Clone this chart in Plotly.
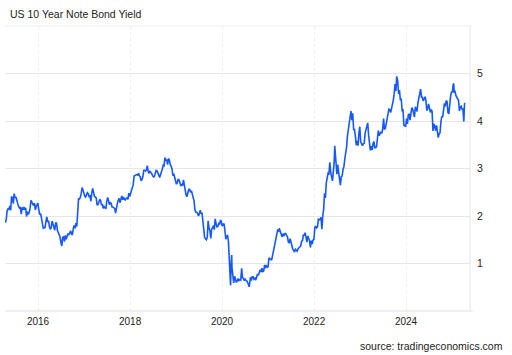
import plotly.graph_objects as go

title_text = "US 10 Year Note Bond Yield"
source_text = "source: tradingeconomics.com"

dates = [
    # 2015
    "2015-04-17","2015-04-24","2015-05-01","2015-05-08","2015-05-15","2015-05-22","2015-05-29",
    "2015-06-05","2015-06-12","2015-06-19","2015-06-26","2015-07-03","2015-07-10","2015-07-17",
    "2015-07-24","2015-07-31","2015-08-07","2015-08-14","2015-08-21","2015-08-28","2015-09-04",
    "2015-09-11","2015-09-18","2015-09-25","2015-10-02","2015-10-09","2015-10-16","2015-10-23",
    "2015-10-30","2015-11-06","2015-11-13","2015-11-20","2015-11-27","2015-12-04","2015-12-11",
    "2015-12-18","2015-12-25","2015-12-31",
    # 2016
    "2016-01-08","2016-01-15","2016-01-22","2016-01-29","2016-02-05","2016-02-12","2016-02-19",
    "2016-02-26","2016-03-04","2016-03-11","2016-03-18","2016-03-25","2016-04-01","2016-04-08",
    "2016-04-15","2016-04-22","2016-04-29","2016-05-06","2016-05-13","2016-05-20","2016-05-27",
    "2016-06-03","2016-06-10","2016-06-17","2016-06-24","2016-07-01","2016-07-08","2016-07-15",
    "2016-07-22","2016-07-29","2016-08-05","2016-08-12","2016-08-19","2016-08-26","2016-09-02",
    "2016-09-09","2016-09-16","2016-09-23","2016-09-30","2016-10-07","2016-10-14","2016-10-21",
    "2016-10-28","2016-11-04","2016-11-11","2016-11-18","2016-11-25","2016-12-02","2016-12-09",
    "2016-12-16","2016-12-23","2016-12-30",
    # 2017
    "2017-01-06","2017-01-13","2017-01-20","2017-01-27","2017-02-03","2017-02-10","2017-02-17",
    "2017-02-24","2017-03-03","2017-03-10","2017-03-17","2017-03-24","2017-03-31","2017-04-07",
    "2017-04-14","2017-04-21","2017-04-28","2017-05-05","2017-05-12","2017-05-19","2017-05-26",
    "2017-06-02","2017-06-09","2017-06-16","2017-06-23","2017-06-30","2017-07-07","2017-07-14",
    "2017-07-21","2017-07-28","2017-08-04","2017-08-11","2017-08-18","2017-08-25","2017-09-01",
    "2017-09-08","2017-09-15","2017-09-22","2017-09-29","2017-10-06","2017-10-13","2017-10-20",
    "2017-10-27","2017-11-03","2017-11-10","2017-11-17","2017-11-24","2017-12-01","2017-12-08",
    "2017-12-15","2017-12-22","2017-12-29",
    # 2018
    "2018-01-05","2018-01-12","2018-01-19","2018-01-26","2018-02-02","2018-02-09","2018-02-16",
    "2018-02-23","2018-03-02","2018-03-09","2018-03-16","2018-03-23","2018-03-30","2018-04-06",
    "2018-04-13","2018-04-20","2018-04-27","2018-05-04","2018-05-11","2018-05-18","2018-05-25",
    "2018-06-01","2018-06-08","2018-06-15","2018-06-22","2018-06-29","2018-07-06","2018-07-13",
    "2018-07-20","2018-07-27","2018-08-03","2018-08-10","2018-08-17","2018-08-24","2018-08-31",
    "2018-09-07","2018-09-14","2018-09-21","2018-09-28","2018-10-05","2018-10-12","2018-10-19",
    "2018-10-26","2018-11-02","2018-11-09","2018-11-16","2018-11-23","2018-11-30","2018-12-07",
    "2018-12-14","2018-12-21","2018-12-28",
    # 2019
    "2019-01-04","2019-01-11","2019-01-18","2019-01-25","2019-02-01","2019-02-08","2019-02-15",
    "2019-02-22","2019-03-01","2019-03-08","2019-03-15","2019-03-22","2019-03-29","2019-04-05",
    "2019-04-12","2019-04-19","2019-04-26","2019-05-03","2019-05-10","2019-05-17","2019-05-24",
    "2019-05-31","2019-06-07","2019-06-14","2019-06-21","2019-06-28","2019-07-05","2019-07-12",
    "2019-07-19","2019-07-26","2019-08-02","2019-08-09","2019-08-16","2019-08-23","2019-08-30",
    "2019-09-06","2019-09-13","2019-09-20","2019-09-27","2019-10-04","2019-10-11","2019-10-18",
    "2019-10-25","2019-11-01","2019-11-08","2019-11-15","2019-11-22","2019-11-29","2019-12-06",
    "2019-12-13","2019-12-20","2019-12-27",
    # 2020
    "2020-01-03","2020-01-10","2020-01-17","2020-01-24","2020-01-31","2020-02-07","2020-02-14",
    "2020-02-21","2020-02-28","2020-03-06","2020-03-09","2020-03-13","2020-03-18","2020-03-20",
    "2020-03-27","2020-04-03","2020-04-10","2020-04-17","2020-04-24","2020-05-01","2020-05-08",
    "2020-05-15","2020-05-22","2020-05-29","2020-06-05","2020-06-12","2020-06-19","2020-06-26",
    "2020-07-03","2020-07-10","2020-07-17","2020-07-24","2020-07-31","2020-08-04","2020-08-14",
    "2020-08-21","2020-08-28","2020-09-04","2020-09-11","2020-09-18","2020-09-25","2020-10-02",
    "2020-10-09","2020-10-16","2020-10-23","2020-10-30","2020-11-06","2020-11-13","2020-11-20",
    "2020-11-27","2020-12-04","2020-12-11","2020-12-18","2020-12-24","2020-12-31",
    # 2021
    "2021-01-08","2021-01-15","2021-01-22","2021-01-29","2021-02-05","2021-02-12","2021-02-19",
    "2021-02-26","2021-03-05","2021-03-12","2021-03-19","2021-03-26","2021-03-31","2021-04-09",
    "2021-04-16","2021-04-23","2021-04-30","2021-05-07","2021-05-14","2021-05-21","2021-05-28",
    "2021-06-04","2021-06-11","2021-06-18","2021-06-25","2021-07-02","2021-07-09","2021-07-16",
    "2021-07-23","2021-07-30","2021-08-06","2021-08-13","2021-08-20","2021-08-27","2021-09-03",
    "2021-09-10","2021-09-17","2021-09-24","2021-10-01","2021-10-08","2021-10-15","2021-10-22",
    "2021-10-29","2021-11-05","2021-11-12","2021-11-19","2021-11-26","2021-12-03","2021-12-10",
    "2021-12-17","2021-12-23","2021-12-31",
    # 2022
    "2022-01-07","2022-01-14","2022-01-21","2022-01-28","2022-02-04","2022-02-11","2022-02-18",
    "2022-02-25","2022-03-04","2022-03-11","2022-03-18","2022-03-25","2022-04-01","2022-04-08",
    "2022-04-15","2022-04-22","2022-04-29","2022-05-06","2022-05-13","2022-05-20","2022-05-27",
    "2022-06-03","2022-06-10","2022-06-14","2022-06-17","2022-06-24","2022-07-01","2022-07-08",
    "2022-07-15","2022-07-22","2022-07-29","2022-08-05","2022-08-12","2022-08-19","2022-08-26",
    "2022-09-02","2022-09-09","2022-09-16","2022-09-23","2022-09-30","2022-10-07","2022-10-14",
    "2022-10-21","2022-10-28","2022-11-04","2022-11-11","2022-11-18","2022-11-25","2022-12-02",
    "2022-12-09","2022-12-16","2022-12-23","2022-12-30",
    # 2023
    "2023-01-06","2023-01-13","2023-01-20","2023-01-27","2023-02-03","2023-02-10","2023-02-17",
    "2023-02-24","2023-03-03","2023-03-10","2023-03-17","2023-03-24","2023-03-31","2023-04-07",
    "2023-04-14","2023-04-21","2023-04-28","2023-05-05","2023-05-12","2023-05-19","2023-05-26",
    "2023-06-02","2023-06-09","2023-06-16","2023-06-23","2023-06-30","2023-07-07","2023-07-14",
    "2023-07-21","2023-07-28","2023-08-04","2023-08-11","2023-08-18","2023-08-25","2023-09-01",
    "2023-09-08","2023-09-15","2023-09-22","2023-09-29","2023-10-06","2023-10-13","2023-10-19",
    "2023-10-27","2023-11-03","2023-11-10","2023-11-17","2023-11-24","2023-12-01","2023-12-08",
    "2023-12-15","2023-12-22","2023-12-29",
    # 2024
    "2024-01-05","2024-01-12","2024-01-19","2024-01-26","2024-02-02","2024-02-09","2024-02-16",
    "2024-02-23","2024-03-01","2024-03-08","2024-03-15","2024-03-22","2024-03-28","2024-04-05",
    "2024-04-12","2024-04-19","2024-04-26","2024-05-03","2024-05-10","2024-05-17","2024-05-24",
    "2024-05-31","2024-06-07","2024-06-14","2024-06-21","2024-06-28","2024-07-05","2024-07-12",
    "2024-07-19","2024-07-26","2024-08-02","2024-08-09","2024-08-16","2024-08-23","2024-08-30",
    "2024-09-06","2024-09-13","2024-09-20","2024-09-27","2024-10-04","2024-10-11","2024-10-18",
    "2024-10-25","2024-11-01","2024-11-08","2024-11-15","2024-11-22","2024-11-29","2024-12-06",
    "2024-12-13","2024-12-20","2024-12-27",
    # 2025
    "2025-01-03","2025-01-10","2025-01-14","2025-01-17","2025-01-24","2025-01-31","2025-02-07",
    "2025-02-14","2025-02-21","2025-02-28","2025-03-07","2025-03-14","2025-03-21","2025-03-28",
    "2025-04-04","2025-04-09","2025-04-11",
]

yields = [
    # 2015
    1.86, 1.93, 2.11, 2.15, 2.14, 2.21, 2.12,
    2.40, 2.39, 2.26, 2.47, 2.38, 2.40, 2.35,
    2.26, 2.20, 2.17, 2.19, 2.04, 2.18, 2.13,
    2.19, 2.13, 2.17, 1.99, 2.09, 2.03, 2.08,
    2.16, 2.33, 2.28, 2.26, 2.22, 2.27, 2.13,
    2.20, 2.25, 2.27,
    # 2016
    2.12, 2.03, 2.05, 1.94, 1.84, 1.74, 1.75,
    1.76, 1.88, 1.98, 1.87, 1.90, 1.77, 1.72,
    1.76, 1.89, 1.83, 1.78, 1.70, 1.85, 1.85,
    1.70, 1.64, 1.61, 1.56, 1.44, 1.37, 1.55,
    1.57, 1.46, 1.59, 1.51, 1.58, 1.63, 1.60,
    1.67, 1.69, 1.62, 1.60, 1.73, 1.80, 1.74,
    1.85, 1.78, 2.15, 2.36, 2.36, 2.39, 2.47,
    2.60, 2.55, 2.45,
    # 2017
    2.42, 2.40, 2.47, 2.49, 2.47, 2.41, 2.42,
    2.31, 2.49, 2.58, 2.50, 2.41, 2.40, 2.38,
    2.24, 2.24, 2.29, 2.35, 2.33, 2.23, 2.25,
    2.16, 2.20, 2.16, 2.15, 2.31, 2.39, 2.33,
    2.24, 2.29, 2.26, 2.19, 2.19, 2.17, 2.16,
    2.06, 2.20, 2.26, 2.33, 2.37, 2.28, 2.39,
    2.42, 2.34, 2.40, 2.35, 2.34, 2.37, 2.38,
    2.35, 2.48, 2.41,
    # 2018
    2.48, 2.55, 2.64, 2.66, 2.84, 2.85, 2.87,
    2.87, 2.86, 2.90, 2.85, 2.82, 2.74, 2.77,
    2.83, 2.96, 2.96, 2.95, 2.97, 3.06, 2.93,
    2.90, 2.94, 2.92, 2.89, 2.85, 2.82, 2.83,
    2.89, 2.96, 2.95, 2.87, 2.86, 2.81, 2.86,
    2.94, 2.99, 3.07, 3.06, 3.23, 3.16, 3.19,
    3.08, 3.21, 3.18, 3.08, 3.05, 2.99, 2.85,
    2.89, 2.79, 2.72,
    # 2019
    2.67, 2.70, 2.78, 2.76, 2.69, 2.63, 2.66,
    2.65, 2.76, 2.63, 2.59, 2.44, 2.41, 2.50,
    2.56, 2.56, 2.50, 2.53, 2.47, 2.39, 2.32,
    2.13, 2.08, 2.08, 2.06, 2.00, 2.04, 2.12,
    2.05, 2.07, 1.85, 1.74, 1.55, 1.52, 1.50,
    1.55, 1.90, 1.74, 1.69, 1.53, 1.73, 1.75,
    1.80, 1.71, 1.94, 1.83, 1.77, 1.78, 1.84,
    1.82, 1.92, 1.88,
    # 2020
    1.79, 1.82, 1.84, 1.70, 1.51, 1.58, 1.59,
    1.46, 1.13, 0.71, 0.54, 0.96, 1.18, 0.92,
    0.68, 0.59, 0.73, 0.65, 0.60, 0.64, 0.68,
    0.64, 0.66, 0.65, 0.90, 0.70, 0.69, 0.64,
    0.67, 0.64, 0.63, 0.59, 0.53, 0.51, 0.71,
    0.64, 0.72, 0.72, 0.67, 0.69, 0.65, 0.70,
    0.78, 0.75, 0.84, 0.87, 0.82, 0.90, 0.83,
    0.84, 0.97, 0.90, 0.95, 0.94, 0.92,
    # 2021
    1.12, 1.09, 1.09, 1.07, 1.17, 1.20, 1.34,
    1.44, 1.57, 1.64, 1.72, 1.67, 1.74, 1.66,
    1.58, 1.56, 1.63, 1.58, 1.63, 1.63, 1.59,
    1.56, 1.45, 1.44, 1.52, 1.43, 1.36, 1.30,
    1.28, 1.24, 1.30, 1.28, 1.26, 1.31, 1.33,
    1.34, 1.37, 1.47, 1.48, 1.61, 1.59, 1.65,
    1.55, 1.45, 1.58, 1.54, 1.48, 1.34, 1.48,
    1.41, 1.49, 1.51,
    # 2022
    1.76, 1.78, 1.75, 1.77, 1.93, 1.92, 1.93,
    1.97, 1.72, 2.00, 2.14, 2.48, 2.38, 2.70,
    2.83, 2.90, 2.89, 3.13, 2.92, 2.78, 2.74,
    2.94, 3.15, 3.48, 3.23, 3.13, 2.88, 3.08,
    2.92, 2.77, 2.65, 2.83, 2.84, 2.98, 3.04,
    3.20, 3.31, 3.45, 3.69, 3.83, 3.88, 4.01,
    4.21, 4.02, 4.16, 3.82, 3.82, 3.68, 3.49,
    3.58, 3.48, 3.75, 3.88,
    # 2023
    3.56, 3.51, 3.48, 3.52, 3.53, 3.74, 3.82,
    3.95, 3.96, 3.70, 3.43, 3.38, 3.47, 3.39,
    3.52, 3.57, 3.44, 3.44, 3.46, 3.67, 3.80,
    3.69, 3.74, 3.77, 3.74, 3.84, 4.05, 3.83,
    3.84, 3.96, 4.05, 4.16, 4.25, 4.24, 4.18,
    4.26, 4.33, 4.44, 4.57, 4.78, 4.63, 4.94,
    4.84, 4.57, 4.65, 4.44, 4.47, 4.22, 4.23,
    3.91, 3.90, 3.88,
    # 2024
    4.05, 3.94, 4.13, 4.14, 4.02, 4.18, 4.28,
    4.25, 4.18, 4.08, 4.30, 4.22, 4.20, 4.39,
    4.50, 4.62, 4.67, 4.50, 4.50, 4.42, 4.46,
    4.51, 4.43, 4.22, 4.26, 4.36, 4.28, 4.18,
    4.24, 4.20, 3.79, 3.94, 3.89, 3.80, 3.91,
    3.72, 3.65, 3.73, 3.75, 3.98, 4.10, 4.08,
    4.24, 4.37, 4.31, 4.43, 4.41, 4.18, 4.15,
    4.40, 4.52, 4.62,
    # 2025
    4.60, 4.77, 4.79, 4.61, 4.62, 4.54, 4.49,
    4.48, 4.43, 4.21, 4.30, 4.31, 4.25, 4.25,
    3.99, 4.34, 4.38,
]

assert len(dates) == len(yields)

x_range = ["2015-04-14", "2025-05-23"]
y_range = [0, 6]
y_ticks = [1, 2, 3, 4, 5]
x_ticks = ["2016-01-01", "2018-01-01", "2020-01-01", "2022-01-01", "2024-01-01"]
x_tick_labels = ["2016", "2018", "2020", "2022", "2024"]

FONT = "Liberation Sans, Arial, Helvetica, sans-serif"

fig = go.Figure()
fig.add_trace(go.Scatter(
    x=dates, y=yields, mode="lines",
    line=dict(color="#1558ff", width=1.6),
    hoverinfo="skip", showlegend=False,
))

fig.update_layout(
    width=512, height=355,
    margin=dict(l=5, r=42, t=26, b=44),
    paper_bgcolor="white", plot_bgcolor="white",
    font=dict(family=FONT, size=10, color="#222"),
    hovermode=False,
    title=dict(text=title_text, x=10/512, xanchor="left", y=1-14/355, yanchor="middle",
               xref="container", yref="container",
               font=dict(family=FONT, size=10.5, color="#222")),
    xaxis=dict(range=x_range, tickvals=x_ticks, ticktext=x_tick_labels,
               showgrid=True, gridcolor="#ececf2", griddash="dot", gridwidth=1,
               zeroline=False, showline=False, ticks="", ticklabelstandoff=3,
               tickfont=dict(size=10, color="#222")),
    yaxis=dict(range=y_range, tickvals=y_ticks, side="right",
               showgrid=True, gridcolor="#e6e6e6", gridwidth=1,
               zeroline=False, showline=False, ticks="", ticklabelstandoff=6,
               tickfont=dict(size=10.5, color="#222")),
    shapes=[
        dict(type="line", xref="paper", yref="paper", x0=0, x1=1.006, y0=1, y1=1,
             line=dict(color="#eeeeee", width=1)),
        dict(type="line", xref="paper", yref="paper", x0=0, x1=1.006, y0=0, y1=0,
             line=dict(color="#dde0e8", width=1)),
        dict(type="line", xref="paper", yref="paper", x0=1, x1=1, y0=0, y1=1,
             line=dict(color="#e6e6e6", width=1)),
    ],
    annotations=[
        dict(text=source_text, xref="paper", yref="paper",
             x=(505-5)/465, y=-(346-311)/285, xanchor="right", yanchor="middle",
             showarrow=False, font=dict(family=FONT, size=10.5, color="#222")),
    ],
)

fig.write_html("out.html", config={"displayModeBar": False},
               post_script="document.body.style.margin='0';document.body.style.overflow='hidden';")
